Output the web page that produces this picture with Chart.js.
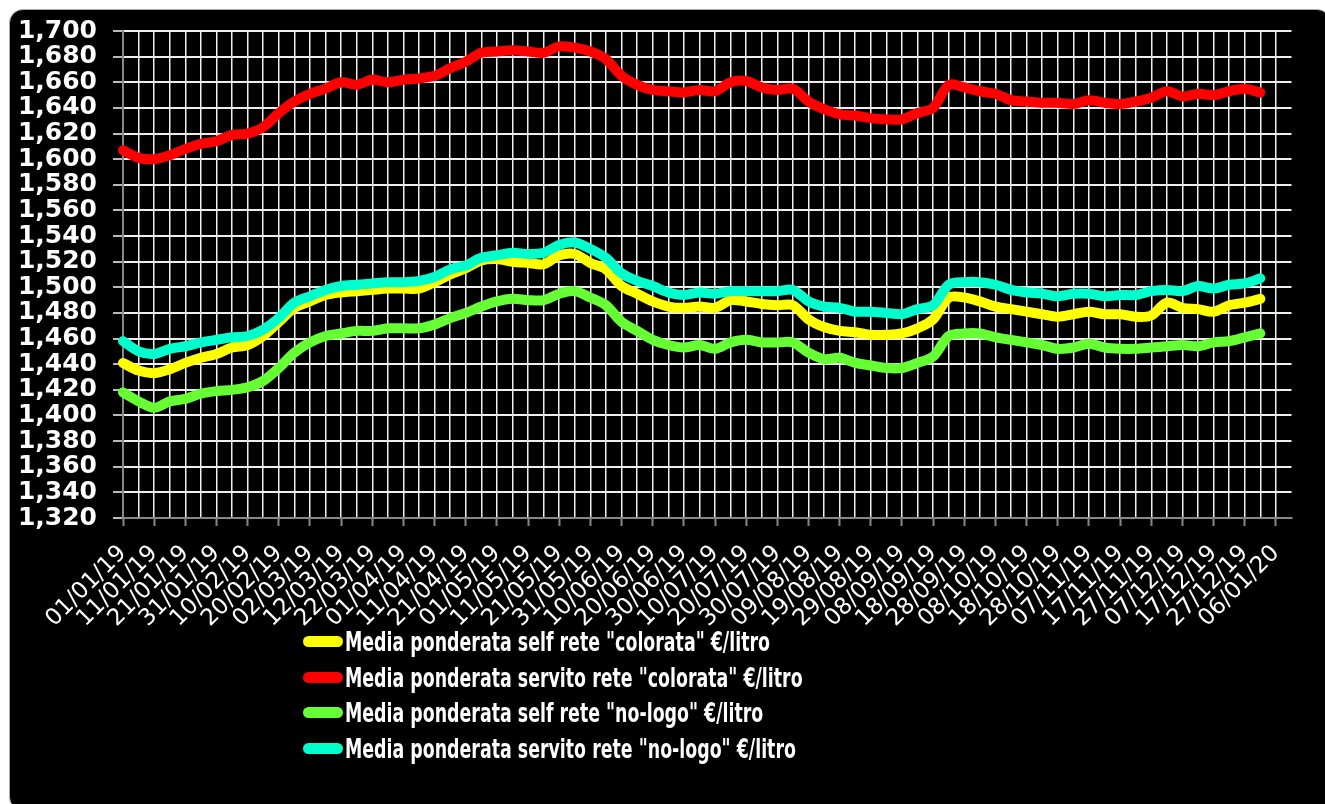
<!DOCTYPE html>
<html>
<head>
  <title>Media ponderata prezzi</title>
  <script src="https://cdn.jsdelivr.net/npm/chart.js"></script>
  <style>
    body { margin: 0; background: #fff; }
    #frame { position: absolute; left: 9px; top: 9px; width: 1320px; height: 800px; background: #000; border: 1px solid #aaa; border-radius: 14px; }
    #c { position: absolute; left: 0; top: 0; }
    #legend { position: absolute; left: 303px; top: 624px; }
    .row { height: 35.5px; display: flex; align-items: center; }
    .swatch { width: 40px; height: 11px; border-radius: 6px; margin-right: 2px; flex: none; }
    .txt { font: bold 27px "DejaVu Sans Condensed", "DejaVu Sans", sans-serif; color: #fff; white-space: nowrap; transform-origin: left center; display: inline-block; }
  </style>
</head>
<body>
  <div id="frame"></div>
  <canvas id="c" width="1325" height="804"></canvas>
  <div id="legend"></div>

  <script>
    // one label every 5 days, only every other one is written on the axis
    const dates = [
      '01/01/19','06/01/19','11/01/19','16/01/19','21/01/19','26/01/19','31/01/19','05/02/19','10/02/19','15/02/19',
      '20/02/19','25/02/19','02/03/19','07/03/19','12/03/19','17/03/19','22/03/19','27/03/19','01/04/19','06/04/19',
      '11/04/19','16/04/19','21/04/19','26/04/19','01/05/19','06/05/19','11/05/19','16/05/19','21/05/19','26/05/19',
      '31/05/19','05/06/19','10/06/19','15/06/19','20/06/19','25/06/19','30/06/19','05/07/19','10/07/19','15/07/19',
      '20/07/19','25/07/19','30/07/19','04/08/19','09/08/19','14/08/19','19/08/19','24/08/19','29/08/19','03/09/19',
      '08/09/19','13/09/19','18/09/19','23/09/19','28/09/19','03/10/19','08/10/19','13/10/19','18/10/19','23/10/19',
      '28/10/19','02/11/19','07/11/19','12/11/19','17/11/19','22/11/19','27/11/19','02/12/19','07/12/19','12/12/19',
      '17/12/19','22/12/19','27/12/19','01/01/20','06/01/20','11/01/20'
    ];

    const selfColorata = [
      1.441,1.435,1.433,1.436,1.441,1.445,1.448,1.453,1.455,1.462,
      1.473,1.484,1.489,1.494,1.496,1.497,1.498,1.499,1.499,1.499,
      1.504,1.510,1.515,1.521,1.522,1.520,1.519,1.518,1.525,1.526,
      1.519,1.514,1.501,1.495,1.489,1.485,1.484,1.485,1.484,1.490,
      1.489,1.487,1.486,1.486,1.475,1.469,1.466,1.465,1.463,1.463,
      1.464,1.468,1.475,1.492,1.492,1.489,1.485,1.483,1.481,1.479,
      1.477,1.479,1.481,1.479,1.479,1.477,1.478,1.488,1.484,1.483,
      1.481,1.486,1.488,1.491
    ];
    const servitoColorata = [
      1.607,1.601,1.600,1.603,1.608,1.612,1.614,1.619,1.620,1.625,
      1.636,1.645,1.651,1.655,1.660,1.658,1.662,1.660,1.662,1.663,
      1.665,1.671,1.676,1.683,1.684,1.685,1.684,1.683,1.688,1.687,
      1.684,1.678,1.665,1.658,1.654,1.653,1.652,1.654,1.653,1.660,
      1.661,1.656,1.654,1.655,1.645,1.639,1.635,1.634,1.632,1.631,
      1.631,1.636,1.640,1.658,1.656,1.653,1.651,1.646,1.645,1.644,
      1.644,1.643,1.646,1.644,1.643,1.645,1.648,1.653,1.649,1.651,
      1.650,1.653,1.655,1.652
    ];
    const selfNoLogo = [
      1.418,1.411,1.406,1.411,1.413,1.417,1.419,1.420,1.422,1.427,
      1.437,1.449,1.457,1.462,1.464,1.466,1.466,1.468,1.468,1.468,
      1.471,1.476,1.480,1.485,1.489,1.491,1.490,1.490,1.495,1.497,
      1.492,1.486,1.473,1.466,1.459,1.455,1.453,1.455,1.452,1.457,
      1.459,1.457,1.457,1.457,1.449,1.444,1.445,1.441,1.439,1.437,
      1.437,1.441,1.446,1.462,1.464,1.464,1.461,1.459,1.457,1.455,
      1.452,1.453,1.456,1.453,1.452,1.452,1.453,1.454,1.455,1.454,
      1.457,1.458,1.461,1.464
    ];
    const servitoNoLogo = [
      1.458,1.450,1.448,1.452,1.454,1.457,1.459,1.461,1.462,1.467,
      1.476,1.488,1.493,1.498,1.501,1.502,1.503,1.504,1.504,1.505,
      1.508,1.514,1.517,1.523,1.525,1.527,1.526,1.527,1.533,1.535,
      1.530,1.523,1.511,1.505,1.501,1.496,1.494,1.496,1.495,1.497,
      1.497,1.497,1.497,1.498,1.489,1.485,1.484,1.481,1.481,1.480,
      1.479,1.483,1.486,1.502,1.504,1.504,1.502,1.498,1.496,1.495,
      1.493,1.495,1.495,1.493,1.494,1.494,1.497,1.498,1.497,1.501,
      1.499,1.502,1.503,1.507
    ];

    const seriesNames = [
      'Media ponderata self rete "colorata" €/litro',
      'Media ponderata servito rete "colorata" €/litro',
      'Media ponderata self rete "no-logo" €/litro',
      'Media ponderata servito rete "no-logo" €/litro'
    ];
    const seriesColors = ['#ffff00', '#ff0000', '#66ff33', '#00ffcc'];
    const seriesData = [selfColorata, servitoColorata, selfNoLogo, servitoNoLogo];
    const drawOrder = [1, 2, 3, 0];

    const ctx = document.getElementById('c').getContext('2d');
    new Chart(ctx, {
      type: 'line',
      data: {
        labels: dates,
        datasets: seriesData.map((d, i) => ({
          label: seriesNames[i],
          data: d,
          borderColor: seriesColors[i],
          backgroundColor: seriesColors[i],
          order: drawOrder[i]
        }))
      },
      options: {
        responsive: false,
        animation: false,
        layout: { padding: { top: 28, right: 31, left: 0, bottom: 0 } },
        elements: {
          point: { radius: 0 },
          line: { borderWidth: 10, tension: 0.3, borderCapStyle: 'round', borderJoinStyle: 'round' }
        },
        plugins: { legend: { display: false }, tooltip: { enabled: false } },
        scales: {
          // grid only: a line every 5 days
          x: {
            weight: 0,
            afterFit: s => { s.height = 0; },
            border: { color: '#888', width: 2 },
            grid: {
              color: c => c.index === dates.length - 1 ? 'transparent' : '#eeeeee',
              lineWidth: 1.5,
              drawTicks: false
            },
            ticks: { display: false }
          },
          // labels and tick marks every 10 days
          xl: {
            type: 'category',
            position: 'bottom',
            weight: 1,
            afterFit: s => { s.height = 804 - 518; },
            border: { display: false },
            grid: {
              drawOnChartArea: false,
              tickLength: 8,
              tickColor: c => c.index % 2 ? 'transparent' : '#888',
              tickWidth: 2
            },
            ticks: {
              autoSkip: false,
              maxRotation: 45,
              minRotation: 45,
              padding: 14,
              color: '#fff',
              font: { family: 'DejaVu Sans', size: 23 },
              callback: (v, i) => i % 2 ? '' : dates[i]
            }
          },
          y: {
            min: 1.32,
            max: 1.70,
            afterFit: s => { s.width = 123; },
            border: { color: '#888', width: 2 },
            grid: { color: '#eeeeee', lineWidth: 2, tickLength: 10, tickColor: '#bbb' },
            ticks: {
              autoSkip: false,
              stepSize: 0.02,
              padding: 16,
              color: '#fff',
              font: { family: 'DejaVu Sans', size: 25, weight: 'bold' },
              callback: v => v.toFixed(3).replace('.', ',')
            }
          }
        }
      }
    });

    // legend as a vertical list under the plot
    const legend = document.getElementById('legend');
    seriesNames.forEach((name, i) => {
      const row = document.createElement('div');
      row.className = 'row';
      row.innerHTML = '<span class="swatch" style="background:' + seriesColors[i] + '"></span><span class="txt"></span>';
      row.querySelector('.txt').textContent = name;
      legend.appendChild(row);
    });
    const txts = legend.querySelectorAll('.txt');
    const k = 425 / txts[0].getBoundingClientRect().width;
    txts.forEach(t => { t.style.transform = 'scaleX(' + k + ')'; });
  </script>
</body>
</html>
